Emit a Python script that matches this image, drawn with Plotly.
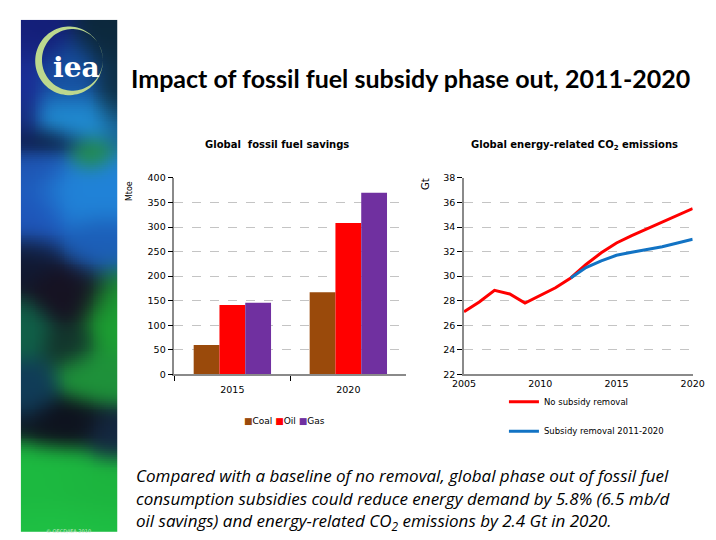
import numpy as np
import plotly.graph_objects as go

W, H = 716, 540

# ---- data -------------------------------------------------------------
bar_years = ["2015", "2020"]
fuels = ["Coal", "Oil", "Gas"]
coal_mtoe = [60, 167]
oil_mtoe = [141, 308]
gas_mtoe = [146, 370]
fuel_colors = ["#9A4A0B", "#FF0000", "#7030A0"]

co2_years = list(range(2005, 2021))
co2_no_removal = [27.1, 27.9, 28.85, 28.55, 27.8, 28.45, 29.05, 29.85,
                  30.95, 31.9, 32.7, 33.3, 33.85, 34.4, 34.95, 35.5]
removal_years = list(range(2012, 2021))
co2_removal = [29.85, 30.7, 31.25, 31.7, 31.95, 32.15, 32.4, 32.7, 33.0]


def fx(px):
    return px / W


def fy(py):
    return 1 - py / H


CHART_FONT = "DejaVu Sans"
AXIS_GREY = "#8a8a8a"
GRID_GREY = "#c4c4c4"

fig = go.Figure()

# ---- left panel: bars -------------------------------------------------
for name, vals, col in zip(fuels, [coal_mtoe, oil_mtoe, gas_mtoe], fuel_colors):
    fig.add_trace(go.Bar(x=bar_years, y=vals, name=name, marker_color=col,
                         marker_line_width=0, showlegend=False,
                         xaxis="x", yaxis="y"))

# ---- right panel: lines -----------------------------------------------
fig.add_trace(go.Scatter(x=co2_years, y=co2_no_removal, mode="lines",
                         name="No subsidy removal",
                         line=dict(color="#FF0000", width=3),
                         xaxis="x2", yaxis="y2", legend="legend"))
fig.add_trace(go.Scatter(x=removal_years, y=co2_removal, mode="lines",
                         name="Subsidy removal 2011-2020",
                         line=dict(color="#1273C4", width=3),
                         xaxis="x2", yaxis="y2", legend="legend2"))

# ---- decorative side strip (soft colour field) ------------------------
glows = [
    (20, 25, 20, 18, (20, 30, 120)),
    (98, 25, 16, 18, (12, 40, 60)),
    (14, 75, 10, 25, (26, 45, 150)),
    (104, 75, 10, 22, (14, 48, 70)),
    (60, 70, 18, 18, (22, 80, 160)),
    (62, 112, 24, 13, (32, 140, 210)),
    (14, 115, 8, 14, (20, 35, 110)),
    (30, 136, 20, 7, (12, 28, 64)),
    (80, 150, 9, 8, (34, 140, 72)),
    (25, 165, 16, 10, (30, 85, 180)),
    (72, 190, 26, 17, (32, 130, 215)),
    (24, 212, 15, 20, (30, 85, 185)),
    (88, 245, 16, 15, (28, 95, 185)),
    (20, 258, 13, 12, (16, 24, 48)),
    (62, 292, 20, 16, (22, 18, 34)),
    (104, 318, 14, 22, (28, 160, 50)),
    (16, 336, 12, 14, (16, 96, 72)),
    (58, 346, 14, 11, (18, 52, 44)),
    (92, 378, 20, 14, (30, 145, 58)),
    (20, 392, 12, 15, (16, 60, 88)),
    (55, 428, 22, 12, (14, 18, 30)),
    (100, 440, 12, 12, (20, 40, 66)),
    (30, 492, 30, 18, (28, 185, 64)),
    (85, 500, 25, 18, (28, 180, 62)),
    (60, 532, 30, 14, (30, 192, 68)),
]
NX, NY = 50, 265
CELL = 2.0
xs = 9 + (np.arange(NX) + 0.5) * CELL
ys = 11 + (np.arange(NY) + 0.5) * CELL
X, Y = np.meshgrid(xs, ys)
acc = np.zeros((NY, NX, 3))
wsum = np.full((NY, NX), 1e-4)
acc += 1e-4 * np.array((14, 24, 60))
for cx, cy, sx, sy, col in glows:
    w = np.exp(-(((X - cx) / sx) ** 2 + ((Y - cy) / sy) ** 2) / 2)
    acc += w[..., None] * np.array(col)
    wsum += w
field = acc / wsum[..., None]


def soften(img, sigma):
    r = int(3 * sigma)
    k = np.exp(-0.5 * (np.arange(-r, r + 1) / sigma) ** 2)
    k /= k.sum()
    out = img.copy()
    for axis in (0, 1):
        pad = [(0, 0)] * 3
        pad[axis] = (r, r)
        p = np.pad(out, pad, mode="edge")
        out = np.apply_along_axis(lambda v: np.convolve(v, k, mode="valid"),
                                  axis, p)
    return out


strip = np.clip(soften(field, 3.5), 0, 255).round().astype(int)

fig.add_trace(go.Image(z=strip, x0=0, dx=1, y0=0, dy=1, zsmooth="fast",
                       xaxis="x3", yaxis="y3", hoverinfo="skip"))


# logo crescent: outer ring minus offset inner disc
def circle_path(cxp, cyp, r, n=90):
    pts = []
    for k in range(n):
        t = 2 * np.pi * k / n
        pts.append((fx(cxp + r * np.cos(t)), fy(cyp + r * np.sin(t))))
    return "M" + " L".join(f"{a:.5f},{b:.5f}" for a, b in pts) + " Z"


shapes = [
    dict(type="path", xref="paper", yref="paper",
         path=circle_path(59, 56, 35) + " " + circle_path(62.5, 55, 31.5),
         fillrule="evenodd", fillcolor="#BCD88E", line=dict(width=0),
         layer="above"),
]

y_lo, y_hi = fy(376), fy(175.5)

caption_lines = [
    "Compared with a baseline of no removal, global phase out of fossil fuel",
    "consumption subsidies could reduce energy demand by 5.8% (6.5 mb/d",
    "oil savings) and energy-related CO<sub>2</sub> emissions by 2.4 Gt in 2020.",
]

annotations = [
    dict(text="<b>Impact of fossil fuel subsidy phase out, 2011-2020</b>",
         x=fx(121), y=fy(73), xref="paper", yref="paper",
         xanchor="left", yanchor="middle", showarrow=False,
         font=dict(family="Lato", size=25, color="#000000")),
    dict(text="<b>Global\u00a0 fossil fuel savings</b>",
         x=fx(274), y=fy(141), xref="paper", yref="paper",
         xanchor="center", yanchor="middle", showarrow=False,
         font=dict(family=CHART_FONT, size=10, color="#000000")),
    dict(text="<b>Global energy-related CO<sub>2</sub> emissions</b>",
         x=fx(582), y=fy(142), xref="paper", yref="paper",
         xanchor="center", yanchor="middle", showarrow=False,
         font=dict(family=CHART_FONT, size=10, color="#000000")),
    dict(text="Mtoe", textangle=-90, x=fx(121), y=fy(189),
         xref="paper", yref="paper", xanchor="center", yanchor="middle",
         showarrow=False, font=dict(family=CHART_FONT, size=8, color="#000000")),
    dict(text="Gt", textangle=-90, x=fx(428), y=fy(182),
         xref="paper", yref="paper", xanchor="center", yanchor="middle",
         showarrow=False, font=dict(family=CHART_FONT, size=10, color="#000000")),
    dict(text="iea", x=fx(67), y=fy(63), xref="paper", yref="paper",
         xanchor="center", yanchor="middle", showarrow=False,
         font=dict(family="DejaVu Serif", size=28, color="#FFFFFF", weight="bold")),
    dict(text="\u00a9 OECD/IEA 2010", x=fx(58), y=fy(536), xref="paper",
         yref="paper", xanchor="center", yanchor="middle", showarrow=False,
         font=dict(family=CHART_FONT, size=5, color="#cfe8cf")),
]
for line, ypix in zip(caption_lines, [479, 503, 526.5]):
    annotations.append(dict(text=line, x=fx(126), y=fy(ypix), xref="paper",
                            yref="paper", xanchor="left", yanchor="middle",
                            align="left", showarrow=False,
                            font=dict(family="Open Sans", size=17,
                                      color="#000000", style="italic")))

# bar legend as coloured squares followed by names
legend_bits = " ".join(
    f"<span style='color:{c}'>\u25A0</span>{n}" for n, c in zip(fuels, fuel_colors))
annotations.append(dict(text=legend_bits, x=fx(282), y=fy(424), xref="paper",
                        yref="paper", xanchor="center", yanchor="middle",
                        showarrow=False,
                        font=dict(family=CHART_FONT, size=9, color="#000000")))

common_axis = dict(showline=True, linecolor=AXIS_GREY, linewidth=1.5,
                   tickfont=dict(family=CHART_FONT, size=9.5, color="#000000"),
                   zeroline=False)

fig.update_layout(
    width=W, height=H, margin=dict(l=0, r=0, t=0, b=0),
    paper_bgcolor="#FFFFFF", plot_bgcolor="rgba(0,0,0,0)",
    barmode="group", bargap=0.333, bargroupgap=0,
    xaxis=dict(domain=[fx(168), fx(408)], anchor="y", type="category",
               tickson="boundaries", ticks="outside", ticklen=5,
               tickcolor="#000000", showgrid=False, ticklabelstandoff=6,
               **common_axis),
    yaxis=dict(domain=[y_lo, y_hi], anchor="x", range=[0, 400], dtick=50,
               ticks="outside", ticklen=5, tickcolor="#000000",
               showgrid=True, gridcolor=GRID_GREY, griddash="dash",
               gridwidth=1, **common_axis),
    xaxis2=dict(domain=[fx(467.7), fx(704.3)], anchor="y2", range=[2005, 2020],
                dtick=5, ticks="", showgrid=False, ticklabeloverflow="allow",
                **common_axis),
    yaxis2=dict(domain=[y_lo, y_hi], anchor="x2", range=[22, 38], dtick=2,
                ticks="outside", ticklen=5, tickcolor="#000000",
                showgrid=True, gridcolor=GRID_GREY, griddash="dash",
                gridwidth=1, **common_axis),
    xaxis3=dict(domain=[fx(9), fx(109)], anchor="y3", range=[-0.5, NX - 0.5],
                visible=False, fixedrange=True),
    yaxis3=dict(domain=[0, fy(11)], anchor="x3", range=[NY - 0.5, -0.5],
                visible=False, fixedrange=True),
    legend=dict(x=fx(509), y=fy(404), xanchor="left", yanchor="middle",
                bgcolor="rgba(0,0,0,0)", itemwidth=30,
                font=dict(family=CHART_FONT, size=8.5, color="#000000")),
    legend2=dict(x=fx(509), y=fy(434), xanchor="left", yanchor="middle",
                 bgcolor="rgba(0,0,0,0)", itemwidth=30,
                 font=dict(family=CHART_FONT, size=8.5, color="#000000")),
    shapes=shapes,
    annotations=annotations,
)

fig.write_html("out.html",
               post_script="document.body.style.margin='0';")
